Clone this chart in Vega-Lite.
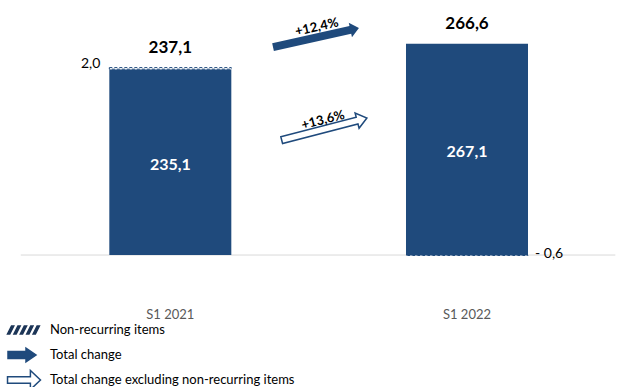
{
  "$schema": "https://vega.github.io/schema/vega-lite/v6.json",
  "width": 626,
  "height": 300,
  "autosize": {"type": "none"},
  "padding": {"left": 0, "top": 0, "right": 0, "bottom": 87},
  "background": "white",
  "config": {
    "view": {"stroke": null},
    "font": "Lato",
    "locale": {"number": {"decimal": ",", "thousands": ".", "grouping": [3], "currency": ["", " €"], "minus": "- "}},
    "legend": {
      "orient": "none", "legendX": 15, "legendY": 321, "title": null, "direction": "vertical",
      "symbolSize": 256, "labelFont": "Lato", "labelFontSize": 13, "labelColor": "black", "labelOffset": 17,
      "rowPadding": -1, "labelLimit": 400, "gridAlign": "all"
    }
  },
  "datasets": {
    "bars": [
      {"period": "S1 2021", "slot": 1, "component": "Recurring", "value": 235.1, "total": 237.1},
      {"period": "S1 2021", "slot": 1, "component": "Non-recurring items", "value": 2.0, "total": 237.1},
      {"period": "S1 2022", "slot": 2, "component": "Recurring", "value": 267.1, "total": 266.6},
      {"period": "S1 2022", "slot": 2, "component": "Non-recurring items", "value": -0.6, "total": 266.6}
    ],
    "arrows": [
      {"kind": "Total change", "slot": 1.491, "level": 275.1, "change": 0.1244},
      {"kind": "Total change excluding non-recurring items", "slot": 1.519, "level": 159.3, "change": 0.1361}
    ],
    "legend": [
      {"kind": "Non-recurring items"},
      {"kind": "Total change"},
      {"kind": "Total change excluding non-recurring items"}
    ]
  },
  "resolve": {"scale": {"y": "independent"}},
  "layer": [
    {
      "layer": [
        {
          "data": {"values": [{"baseline": 0}]},
          "mark": {"type": "rule", "color": "#d9d9d9", "strokeWidth": 1},
          "encoding": {
            "x": {"datum": 0.496, "type": "quantitative", "scale": {"domain": [0.44279, 2.51908], "nice": false, "zero": false}, "axis": null},
            "x2": {"datum": 2.5},
            "y": {"field": "baseline", "type": "quantitative", "scale": {"domain": [-56.9, 322.6], "nice": false, "zero": false}, "axis": null}
          }
        },
        {
          "data": {"name": "bars"},
          "transform": [
            {"stack": "value", "groupby": ["slot"], "sort": [{"field": "component", "order": "descending"}], "as": ["start", "end"]},
            {"filter": "datum.component === 'Recurring'"}
          ],
          "mark": {"type": "bar", "width": 122, "color": "#1f4a7c", "opacity": 1},
          "encoding": {
            "x": {"field": "slot", "type": "quantitative", "axis": null},
            "y": {"field": "start", "type": "quantitative", "axis": null},
            "y2": {"field": "end"}
          }
        },
        {
          "data": {"name": "bars"},
          "transform": [
            {"stack": "value", "groupby": ["slot"], "sort": [{"field": "component", "order": "descending"}], "as": ["start", "end"]},
            {"filter": "datum.component === 'Non-recurring items'"}
          ],
          "mark": {"type": "bar", "width": 122, "fill": "white", "stroke": "#1f4a7c", "strokeWidth": 1, "strokeDash": [3, 2], "opacity": 1},
          "encoding": {
            "x": {"field": "slot", "type": "quantitative", "axis": null},
            "y": {"field": "start", "type": "quantitative", "axis": null},
            "y2": {"field": "end"}
          }
        },
        {
          "data": {"name": "bars"},
          "transform": [{"filter": "datum.component === 'Recurring'"}],
          "mark": {"type": "text", "font": "Lato", "fontSize": 17, "fontWeight": "bold", "color": "black", "baseline": "middle", "dy": -20},
          "encoding": {
            "x": {"field": "slot", "type": "quantitative", "axis": null},
            "y": {"field": "total", "type": "quantitative", "axis": null},
            "text": {"field": "total", "type": "quantitative", "format": ".1f"}
          }
        },
        {
          "data": {"name": "bars"},
          "transform": [{"filter": "datum.component === 'Recurring'"}],
          "mark": {"type": "text", "font": "Lato", "fontSize": 13, "color": "#595959", "baseline": "middle", "dy": 60},
          "encoding": {
            "x": {"field": "slot", "type": "quantitative", "axis": null},
            "y": {"datum": 0, "type": "quantitative", "axis": null},
            "text": {"field": "period", "type": "nominal"}
          }
        },
        {
          "data": {"name": "bars"},
          "transform": [
            {"stack": "value", "groupby": ["slot"], "sort": [{"field": "component", "order": "descending"}], "as": ["start", "end"]},
            {"filter": "datum.component === 'Non-recurring items' && datum.value > 0"}
          ],
          "mark": {"type": "text", "font": "Lato", "fontSize": 14, "color": "black", "align": "right", "baseline": "middle", "dx": -70, "dy": -4},
          "encoding": {
            "x": {"field": "slot", "type": "quantitative", "axis": null},
            "y": {"field": "end", "type": "quantitative", "axis": null},
            "text": {"field": "value", "type": "quantitative", "format": ".1f"}
          }
        },
        {
          "data": {"name": "bars"},
          "transform": [{"filter": "datum.component === 'Non-recurring items' && datum.value < 0"}],
          "mark": {"type": "text", "font": "Lato", "fontSize": 14, "color": "black", "align": "left", "baseline": "middle", "dx": 68, "dy": -1},
          "encoding": {
            "x": {"field": "slot", "type": "quantitative", "axis": null},
            "y": {"field": "value", "type": "quantitative", "axis": null},
            "text": {"field": "value", "type": "quantitative", "format": ".1f"}
          }
        },
        {
          "data": {"name": "arrows"},
          "transform": [{"filter": "datum.kind === 'Total change'"}],
          "mark": {"type": "point", "shape": "M-1,-0.09L0.8,-0.09L0.8,-0.17L1,0L0.8,0.17L0.8,0.09L-1,0.09Z", "size": 7744, "angle": -12.5, "filled": true, "fill": "#1f4a7c", "opacity": 1, "strokeWidth": 0},
          "encoding": {
            "x": {"field": "slot", "type": "quantitative", "axis": null},
            "y": {"field": "level", "type": "quantitative", "axis": null}
          }
        },
        {
          "data": {"name": "arrows"},
          "transform": [{"filter": "datum.kind !== 'Total change'"}],
          "mark": {"type": "point", "shape": "M-1,-0.08L0.77,-0.08L0.77,-0.18L1,0L0.77,0.18L0.77,0.08L-1,0.08Z", "size": 7744, "angle": -14.5, "filled": true, "fill": "white", "opacity": 1, "stroke": "#1f4a7c", "strokeWidth": 1.5},
          "encoding": {
            "x": {"field": "slot", "type": "quantitative", "axis": null},
            "y": {"field": "level", "type": "quantitative", "axis": null}
          }
        },
        {
          "data": {"name": "arrows"},
          "transform": [{"filter": "datum.kind === 'Total change'"}],
          "mark": {"type": "text", "font": "Lato", "fontSize": 13, "fontWeight": "bold", "color": "black", "angle": -12.5, "baseline": "middle", "dy": -10, "dx": 3},
          "encoding": {
            "x": {"field": "slot", "type": "quantitative", "axis": null},
            "y": {"field": "level", "type": "quantitative", "axis": null},
            "text": {"field": "change", "type": "quantitative", "format": "+.1%"}
          }
        },
        {
          "data": {"name": "arrows"},
          "transform": [{"filter": "datum.kind !== 'Total change'"}],
          "mark": {"type": "text", "font": "Lato", "fontSize": 13, "fontWeight": "bold", "color": "black", "angle": -14.5, "baseline": "middle", "dy": -9, "dx": 1},
          "encoding": {
            "x": {"field": "slot", "type": "quantitative", "axis": null},
            "y": {"field": "level", "type": "quantitative", "axis": null},
            "text": {"field": "change", "type": "quantitative", "format": "+.1%"}
          }
        },
        {
          "data": {"name": "legend"},
          "transform": [{"filter": "false"}],
          "mark": {"type": "point", "filled": true, "opacity": 1, "strokeWidth": 1.2},
          "encoding": {
            "x": {"datum": 1, "type": "quantitative", "axis": null},
            "y": {"datum": 0, "type": "quantitative", "axis": null},
            "fill": {
              "field": "kind", "type": "nominal",
              "scale": {"domain": ["Non-recurring items", "Total change", "Total change excluding non-recurring items"], "range": ["#1c3557", "#1f4a7c", "#ffffff"]}
            },
            "stroke": {
              "field": "kind", "type": "nominal",
              "scale": {"domain": ["Non-recurring items", "Total change", "Total change excluding non-recurring items"], "range": ["#1c3557", "#1f4a7c", "#1f4a7c"]}
            },
            "shape": {
              "field": "kind", "type": "nominal",
              "scale": {"domain": ["Non-recurring items", "Total change", "Total change excluding non-recurring items"], "range": ["M-2.06,0.5L-1.78,0.5L-1.28,-0.5L-1.56,-0.5ZM-1.26,0.5L-0.98,0.5L-0.48,-0.5L-0.76,-0.5ZM-0.46,0.5L-0.18,0.5L0.32,-0.5L0.04,-0.5ZM0.34,0.5L0.62,0.5L1.12,-0.5L0.84,-0.5ZM1.14,0.5L1.42,0.5L1.92,-0.5L1.64,-0.5Z", "M-2,-0.45L0.25,-0.45L0.25,-0.85L1.5,0L0.25,0.85L0.25,0.45L-2,0.45Z", "M-2.06,-0.4L0.8,-0.4L0.8,-1.2L2.06,0L0.8,1.2L0.8,0.4L-2.06,0.4Z"]}
            }
          }
        }
      ]
    },
    {
      "data": {"name": "bars"},
      "transform": [{"filter": "datum.component === 'Recurring'"}],
      "mark": {"type": "text", "font": "Lato", "fontSize": 16, "fontWeight": "bold", "color": "white", "baseline": "middle", "dy": 3},
      "encoding": {
        "x": {"field": "slot", "type": "quantitative", "axis": null},
        "y": {"field": "value", "type": "quantitative", "scale": {"domain": [-113.8, 645.2], "nice": false, "zero": false}, "axis": null},
        "text": {"field": "value", "type": "quantitative", "format": ".1f"}
      }
    }
  ]
}
